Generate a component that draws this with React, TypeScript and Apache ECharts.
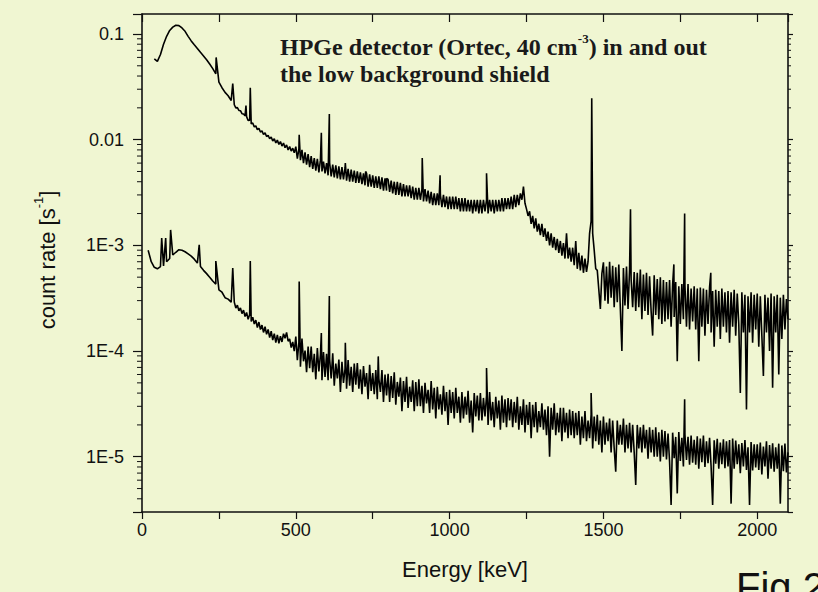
import React, { useEffect, useRef } from "react";
import * as echarts from "echarts";

// ---- Data: count rate vs energy [keV] ----
// Detector outside the shield (values in units of 1e-4 counts/s)
const UNSHIELDED_UNIT = 1e-4;
const unshieldedLowStart = 40; // keV, 10 keV channels
const unshieldedLowStep = 10;
const unshieldedLow = [
  580, 550, 640, 800, 950, 1080, 1160, 1210, 1200, 1140,
  1060, 950, 860, 790, 730, 670, 620, 570, 520, 470,
  420, 350, 310, 280, 260, 235,
];
const unshieldedHighStart = 300; // keV, 5 keV channels
const unshieldedHighStep = 5;
const unshieldedHigh = [
  214, 200, 201, 189, 188, 176, 175, 168, 165, 152, 153, 141, 144, 132, 135, 124, 128, 118, 121, 112,
  116, 107, 110, 102, 106, 97, 102, 93, 99, 90, 96, 87, 93, 84, 89, 80, 86, 78, 83, 75,
  86, 66, 82, 64, 80, 60, 76, 58, 73, 55, 70, 53, 67, 51, 66, 49, 64, 50, 62, 48,
  60, 46, 60, 45, 58, 44, 57, 43, 56, 42, 55, 42, 54, 41, 53, 40, 52, 40, 51, 39,
  50, 39, 49, 38, 48, 37, 48, 36, 47, 36, 46, 35, 45, 35, 45, 34, 44, 33, 43, 33,
  42, 32, 41, 31, 40, 30, 40, 30, 39, 29, 38, 29, 37, 29, 37, 28, 36, 27, 35, 27,
  35, 27, 34, 26, 34, 26, 33, 25, 32, 24, 31, 24, 31, 24, 30, 23, 30, 23, 29, 22,
  29, 22, 29, 22, 29, 22, 28, 21, 28, 21, 28, 21, 27, 21, 27, 20, 27, 21, 27, 20,
  27, 20, 27, 21, 27, 20, 27, 21, 27, 20, 27, 21, 27, 21, 28, 21, 28, 22, 28, 22,
  29, 22, 30, 23, 30, 24, 31, 27, 36, 25, 22, 19, 21, 16, 19, 14.5, 18, 13.5, 16, 12.5,
  16, 12, 14.5, 11, 13.5, 10, 13, 9.5, 12, 9, 11.5, 8.5, 11, 8, 10.5, 7.5, 13, 7.5, 9.5, 7,
  9.5, 6.5, 11, 6, 8.5, 5.8, 8, 5.5, 7.5, 5.6, 7, 13, 17, 13, 9, 6, 5.8, 3.8, 2.5, 5.4,
  6.9, 3.0, 6.3, 2.8, 7.0, 3.2, 6.4, 2.6, 6.2, 2.9, 6.6, 2.5, 1.0, 6.1, 2.7, 6.3, 2.5, 5.9, 4.8, 2.6,
  5.6, 2.4, 5.5, 2.6, 5.9, 2.0, 5.3, 2.4, 5.5, 2.2, 5.1, 2.4, 1.4, 5.2, 2.2, 4.8, 2.0, 5.0, 1.8, 4.7,
  1.9, 4.5, 2.0, 4.7, 1.7, 4.3, 2.1, 4.5, 0.8, 4.1, 1.8, 4.3, 2.0, 4.2, 1.7, 4.3, 1.6, 3.9, 1.9, 4.1,
  1.6, 3.9, 0.8, 4.0, 1.7, 3.9, 1.4, 3.8, 1.8, 4.0, 1.5, 3.7, 1.1, 3.8, 1.7, 3.7, 1.3, 3.9, 1.7, 3.6,
  1.5, 3.7, 1.2, 3.6, 1.7, 3.8, 1.4, 3.5, 1.8, 0.4, 3.6, 1.5, 3.4, 0.28, 3.3, 1.5, 3.6, 1.2, 3.4, 1.6,
  3.5, 1.1, 3.3, 1.4, 0.58, 3.4, 1.5, 3.2, 1.0, 3.5, 0.45, 3.3, 1.5, 3.4, 0.6, 3.2, 1.3, 3.4, 1.6, 3.1,
  2.0,
];
// gamma lines [keV, rate in units of 1e-4]
const unshieldedPeaks: [number, number][] = [
  [241, 600], [295, 340], [338, 210], [352, 310], [511, 111], [583, 116],
  [609, 175], [661, 60], [727, 50], [795, 43], [911, 67], [969, 46],
  [1120, 48], [1462, 247], [1588, 22], [1729, 6.6], [1764, 20], [1849, 5.5],
];

// Detector inside the low background shield (values in units of 1e-6 counts/s)
const SHIELDED_UNIT = 1e-6;
const shieldedLowStart = 20; // keV, 10 keV channels
const shieldedLowStep = 10;
const shieldedLow = [
  900, 700, 620, 600, 630, 640, 700, 750, 810, 860,
  910, 900, 870, 830, 790, 740, 680, 630, 580, 540,
  500, 460, 430, 380, 360, 320, 310, 290,
];
const shieldedHighStart = 300; // keV, 5 keV channels
const shieldedHighStep = 5;
const shieldedHigh = [
  290, 255, 272, 240, 256, 226, 244, 212, 232, 200, 222, 190, 209, 180, 196, 167, 188, 160, 176, 150,
  170, 144, 160, 134, 154, 127, 146, 120, 142, 118, 138, 122, 146, 132, 150, 124, 130, 108, 122, 100,
  137, 82, 121, 71, 131, 80, 101, 63, 110, 69, 110, 63, 94, 54, 107, 64, 92, 53, 98, 57,
  94, 53, 84, 55, 95, 47, 76, 55, 83, 41, 79, 50, 68, 44, 82, 47, 71, 41, 76, 48,
  77, 44, 67, 39, 72, 46, 62, 35, 74, 42, 62, 39, 66, 35, 55, 41, 66, 33, 60, 38,
  61, 33, 58, 36, 63, 31, 51, 37, 56, 27, 52, 33, 57, 29, 46, 33, 53, 27, 51, 30,
  54, 30, 47, 26, 50, 32, 43, 26, 52, 28, 45, 23, 46, 28, 39, 25, 47, 27, 41, 20,
  43, 26, 41, 23, 45, 26, 37, 21, 41, 23, 37, 25, 42, 21, 34, 17, 40, 24, 38, 22,
  40, 22, 36, 24, 38, 20, 41, 22, 33, 19, 37, 23, 34, 18, 38, 21, 35, 19, 36, 22,
  35, 19, 33, 21, 37, 18, 30, 20, 35, 17, 31, 20, 33, 15, 31, 19, 33, 17, 27, 19,
  32, 18, 28, 16, 30, 10, 29, 18, 32, 16, 26, 17, 29, 14, 29, 17, 26, 15, 28, 16,
  27, 15, 26, 16, 27, 13, 24, 15, 27, 14, 22, 15, 25, 12, 24, 14, 25, 13, 22, 11,
  24, 13, 21, 14, 23, 11, 22, 12, 7.2, 22, 13, 20, 13, 23, 11, 20, 12, 21, 11, 20,
  11, 5.4, 20, 12, 19, 11, 20, 12, 18, 9.6, 19, 11, 18, 10, 19, 10, 17, 9, 18, 10,
  17.5, 9.4, 16.6, 9, 3.5, 16.9, 9.7, 15.4, 4.5, 17.1, 9.1, 15.1, 8.1, 16.1, 9.3, 15.4, 8.4, 15.9, 8.8, 14.5,
  8.4, 15.6, 7.7, 14.9, 8.9, 15.9, 8, 14, 8.7, 15.1, 8.1, 3.5, 14.3, 8.6, 14.8, 7.7, 13.6, 8.5, 14.6, 7.8,
  14, 8.1, 14.4, 3.6, 14.9, 7.7, 14.2, 8.5, 13.1, 7, 13.5, 8.1, 14.4, 7.5, 12.3, 3.5, 13.8, 7.4, 13.1, 7.9,
  13.1, 7.5, 13.6, 6.8, 12.5, 8.1, 14, 6.2, 12.9, 7.7, 13.4, 7.2, 12.3, 7.7, 13.3, 3.6, 12.8, 7.3, 13.3, 7.1,
  11,
];
const shieldedPeaks: [number, number][] = [
  [64, 1170], [77, 1170], [93, 1400], [186, 1010], [240, 710],
  [295, 610], [352, 710], [511, 454], [583, 148], [609, 331],
  [661, 120], [768, 89], [1120, 69], [1460, 40], [1764, 35],
];

const yTickLabels: Record<string, string> = {
  "-1": "0.1",
  "-2": "0.01",
  "-3": "1E-3",
  "-4": "1E-4",
  "-5": "1E-5",
};
const xLabelEvery = 500;

const X_MIN = 0;
const X_MAX = 2100;
const Y_MIN = 3.0e-6;
const Y_MAX = 0.1545;

function buildSeries(
  unit: number,
  parts: { start: number; step: number; values: number[] }[],
  peaks: [number, number][]
) {
  const pts: [number, number][] = [];
  parts.forEach((p) => p.values.forEach((v, i) => pts.push([p.start + i * p.step, v * unit])));
  peaks.forEach((p) => pts.push([p[0], p[1] * unit]));
  pts.sort((a, b) => a[0] - b[0]);
  return pts;
}

function minorTickValues() {
  const out: number[] = [];
  for (let k = -6; k <= -1; k++) {
    for (let m = 2; m <= 9; m++) {
      const v = m * Math.pow(10, k);
      if (v > Y_MIN && v < Y_MAX) out.push(v);
    }
  }
  return out;
}

const SANS = "'Liberation Sans', Arial, Helvetica, sans-serif";
const SERIF = "'Liberation Serif', 'Times New Roman', Times, serif";
const INK = "#111";
const BG = "#f0f6d2";

export default function App() {
  const ref = useRef<HTMLDivElement>(null);

  useEffect(() => {
    document.body.style.margin = "0";
    if (!ref.current) return;
    const chart = echarts.init(ref.current, undefined, { renderer: "svg" });

    const axisLine = { show: true, onZero: false, lineStyle: { color: INK, width: 1.6 } };

    const upperData = buildSeries(
      UNSHIELDED_UNIT,
      [
        { start: unshieldedLowStart, step: unshieldedLowStep, values: unshieldedLow },
        { start: unshieldedHighStart, step: unshieldedHighStep, values: unshieldedHigh },
      ],
      unshieldedPeaks
    );
    const lowerData = buildSeries(
      SHIELDED_UNIT,
      [
        { start: shieldedLowStart, step: shieldedLowStep, values: shieldedLow },
        { start: shieldedHighStart, step: shieldedHighStep, values: shieldedHigh },
      ],
      shieldedPeaks
    );

    const option: any = {
      animation: false,
      backgroundColor: BG,
      grid: { left: 142, right: 30, top: 14, bottom: 80, containLabel: false },
      xAxis: [
        {
          type: "value",
          min: X_MIN,
          max: X_MAX,
          interval: 250,
          position: "bottom",
          axisLine,
          axisTick: { show: true, inside: false, length: 7, lineStyle: { color: INK, width: 1.2 } },
          axisLabel: {
            fontSize: 18,
            color: INK,
            fontFamily: SANS,
            margin: 9,
            showMaxLabel: false,
            formatter: (v: number) => (v % xLabelEvery === 0 ? String(v) : ""),
          },
          splitLine: { show: false },
          name: "Energy [keV]",
          nameLocation: "middle",
          nameGap: 46,
          nameTextStyle: { fontSize: 22, color: INK, fontFamily: SANS },
        },
        {
          type: "value",
          min: X_MIN,
          max: X_MAX,
          interval: 250,
          position: "top",
          axisLine,
          axisTick: { show: true, inside: true, length: 8, lineStyle: { color: INK, width: 1.2 } },
          axisLabel: { show: false },
          splitLine: { show: false },
        },
      ],
      yAxis: [
        {
          type: "log",
          logBase: 10,
          min: Y_MIN,
          max: Y_MAX,
          position: "left",
          axisLine,
          axisTick: { show: true, inside: false, length: 9, lineStyle: { color: INK, width: 1.2 } },
          axisLabel: {
            fontSize: 18,
            color: INK,
            fontFamily: SANS,
            margin: 18,
            formatter: (v: number) => {
              const l = Math.log10(v);
              const e = Math.round(l);
              if (Math.abs(l - e) > 1e-6) return "";
              return yTickLabels[String(e)] || "";
            },
          },
          splitLine: { show: false },
        },
        {
          type: "log",
          logBase: 10,
          min: Y_MIN,
          max: Y_MAX,
          position: "right",
          axisLine,
          axisTick: { show: true, inside: false, length: 5, lineStyle: { color: INK, width: 1.2 } },
          axisLabel: { show: false },
          splitLine: { show: false },
        },
      ],
      graphic: [
        {
          type: "text",
          x: 280,
          y: 32,
          style: {
            text: "{b|HPGe detector (Ortec, 40 cm}{s|-3}{b|) in and out}",
            rich: {
              b: { font: `bold 24px ${SERIF}`, fill: "#1a1a1a", lineHeight: 27, verticalAlign: "bottom" },
              s: { font: `bold 13px ${SERIF}`, fill: "#1a1a1a", lineHeight: 27, verticalAlign: "top" },
            },
            verticalAlign: "top",
          },
          z: 10,
        },
        {
          type: "text",
          x: 280,
          y: 62,
          style: {
            text: "the low background shield",
            font: `bold 24px ${SERIF}`,
            fill: "#1a1a1a",
            verticalAlign: "top",
          },
          z: 10,
        },
        {
          type: "text",
          x: 45,
          y: 260,
          rotation: Math.PI / 2,
          style: {
            text: "{n|count rate [s}{s|-1}{n|]}",
            rich: {
              n: { fontSize: 22, fontFamily: SANS, fill: INK, lineHeight: 26, verticalAlign: "bottom" },
              s: { fontSize: 13, fontFamily: SANS, fill: INK, lineHeight: 26, verticalAlign: "top" },
            },
            align: "center",
            verticalAlign: "middle",
          },
          z: 10,
        },
        {
          type: "text",
          x: 736,
          y: 567,
          style: {
            text: "Fig 2",
            fontSize: 40,
            fontFamily: SANS,
            fill: INK,
            verticalAlign: "top",
          },
          z: 10,
        },
      ],
      series: [
        {
          type: "line",
          name: "unshielded",
          xAxisIndex: 0,
          yAxisIndex: 0,
          data: upperData,
          showSymbol: false,
          symbol: "none",
          silent: true,
          clip: true,
          lineStyle: { color: "#000", width: 1.6 },
        },
        {
          type: "line",
          name: "shielded",
          xAxisIndex: 0,
          yAxisIndex: 0,
          data: lowerData,
          showSymbol: false,
          symbol: "none",
          silent: true,
          clip: true,
          lineStyle: { color: "#000", width: 1.6 },
        },
        {
          type: "custom",
          name: "minor ticks",
          xAxisIndex: 0,
          yAxisIndex: 0,
          silent: true,
          clip: false,
          data: minorTickValues().map((v) => [X_MIN, v]),
          renderItem: (_params: any, api: any) => {
            const v = api.value(1);
            const l = api.coord([X_MIN, v]);
            const r = api.coord([X_MAX, v]);
            return {
              type: "group",
              children: [
                {
                  type: "line",
                  shape: { x1: l[0] - 5, y1: l[1], x2: l[0], y2: l[1] },
                  style: { stroke: INK, lineWidth: 1 },
                },
                {
                  type: "line",
                  shape: { x1: r[0], y1: r[1], x2: r[0] + 3, y2: r[1] },
                  style: { stroke: INK, lineWidth: 1 },
                },
              ],
            };
          },
          z: 5,
        },
      ],
    };

    chart.setOption(option);
    return () => chart.dispose();
  }, []);

  return <div ref={ref} style={{ width: 818, height: 592, background: BG }} />;
}
